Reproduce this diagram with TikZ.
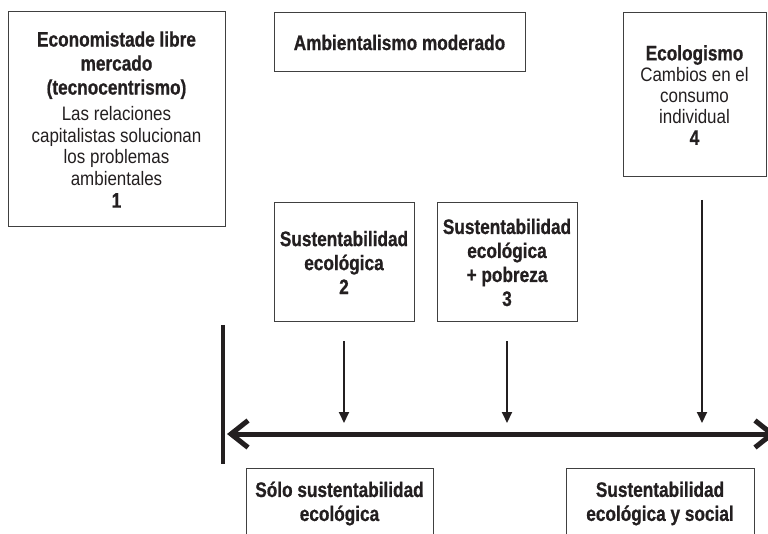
\documentclass[tikz,border=0pt]{standalone}
\usepackage{fontspec}
\setmainfont{Liberation Sans}
\newfontfamily\condB[FakeStretch=0.82, BoldFeatures={FakeBold=0.8}]{Liberation Sans}
\newfontfamily\condR[FakeStretch=0.87]{Liberation Sans}
\newcommand\txtB{\condB\bfseries\fontsize{21}{24}\selectfont}
\newcommand\txtR{\condR\mdseries\fontsize{19.5}{21.7}\selectfont}
\usetikzlibrary{arrows.meta}
\definecolor{ink}{HTML}{231F20}
\begin{document}
\begin{tikzpicture}[x=1pt,y=1pt,
  box/.style={draw=black!75, line width=1pt, align=center, inner sep=0pt, text=ink, font=\txtB},
  frame/.style={draw=black!75, line width=1pt},
  lbl/.style={align=center, inner sep=0pt, text=ink, font=\txtB},
  arr/.style={draw=ink, line width=2pt, -{Triangle[width=10pt,length=11pt]}},
  axis/.style={draw=ink, line width=5pt, {Straight Barb[length=17pt,width=27pt]}-{Straight Barb[length=17pt,width=27pt]}},
  bar/.style={draw=ink, line width=4.5pt}]
\useasboundingbox (0,0) rectangle (768,-534);

% top boxes
\node[box, minimum width=217pt, minimum height=215pt] (b1) at (116.5,-119.5)
  {Economistade libre\\ mercado\\ (tecnocentrismo)\\[2pt]
   {\txtR Las relaciones}\\[-2.3pt]
   {\txtR capitalistas solucionan}\\[-2.3pt]
   {\txtR los problemas}\\[-2.3pt]
   {\txtR ambientales}\\[-2pt]
   1};
\node[box, minimum width=251pt, minimum height=59pt] (amb) at (399.5,-42.5)
  {Ambientalismo moderado};
\node[box, minimum width=143pt, minimum height=164pt] (b4) at (694.5,-95)
  {Ecologismo\\[-3pt]
   {\txtR Cambios en el}\\[-3pt]
   {\txtR consumo}\\[-2.5pt]
   {\txtR individual}\\[-3pt]
   4};

% middle boxes
\node[box, minimum width=140pt, minimum height=119pt] (b2) at (344,-262.5)
  {Sustentabilidad\\ ecológica\\ 2};
\node[box, minimum width=140pt, minimum height=119pt] (b3) at (507,-262.5)
  {Sustentabilidad\\ ecológica\\ + pobreza\\ 3};

% axis
\coordinate (barT) at (223,-325);
\coordinate (barB) at (223,-464);
\coordinate (axL) at (227,-434);
\coordinate (axR) at (776,-434);
\draw[bar] (barT) -- (barB);
\draw[axis] (axL) -- (axR);

% arrows
\coordinate (t2) at (344,-423);
\coordinate (t3) at (507,-423);
\coordinate (s4) at (702,-200);
\coordinate (t4) at (702,-423);
\draw[arr] ([yshift=-19pt]b2.south) -- (t2);
\draw[arr] ([yshift=-19pt]b3.south) -- (t3);
\draw[arr] (s4) -- (t4);

% bottom boxes (cut at the lower edge)
\draw[frame] (246,-534) |- (433,-468) -- (433,-534);
\draw[frame] (566,-534) |- (754,-468) -- (754,-534);
\node[lbl] (l1) at (339.5,-503.5) {Sólo sustentabilidad\\ ecológica};
\node[lbl] (l2) at (660,-503.5) {Sustentabilidad\\ ecológica y social};
\end{tikzpicture}
\end{document}
